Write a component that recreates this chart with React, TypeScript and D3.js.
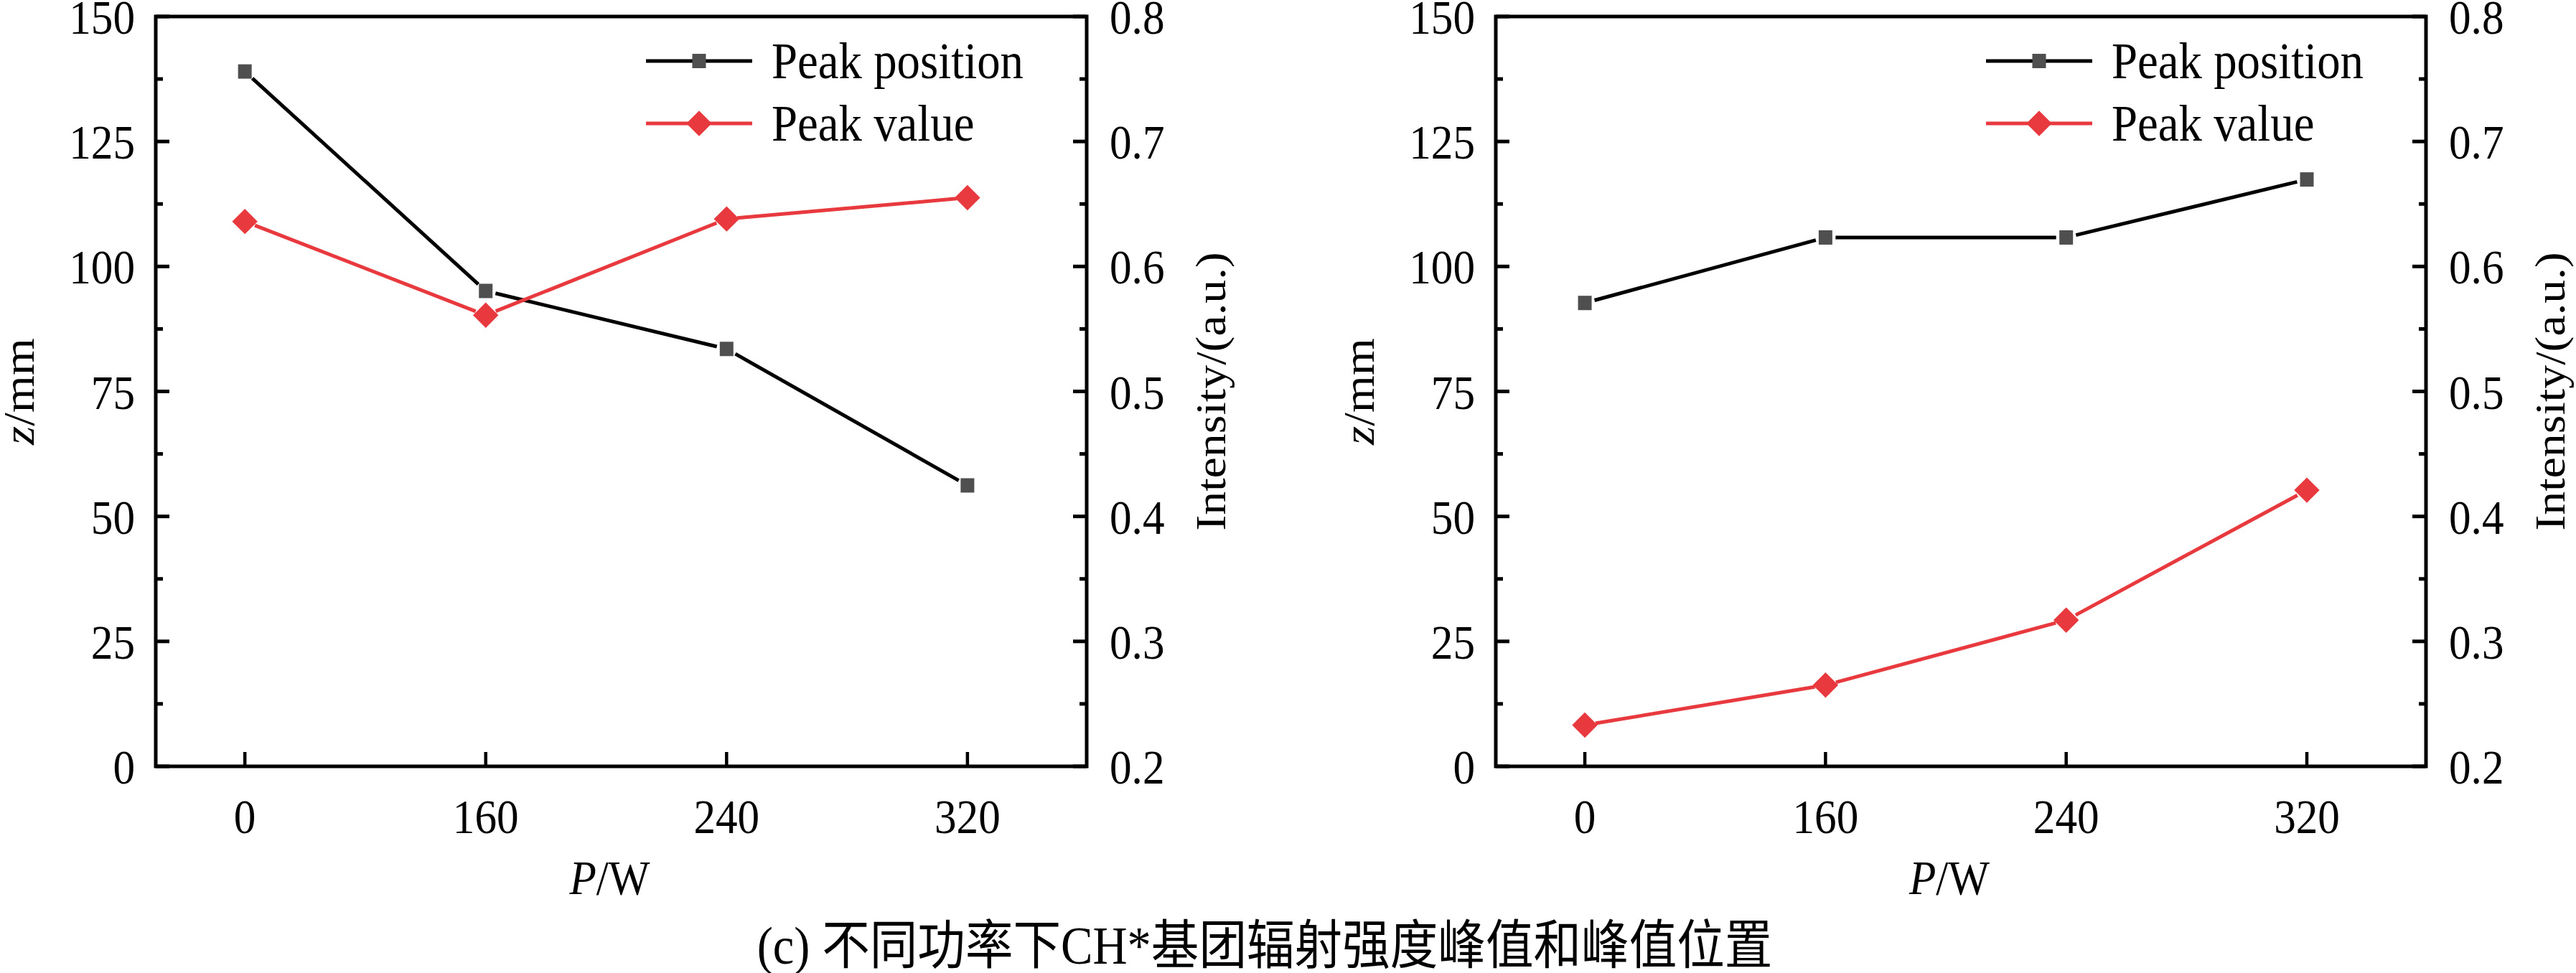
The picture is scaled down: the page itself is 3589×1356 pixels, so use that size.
import React from "react";
import * as d3 from "d3";

// power levels (categorical x axis)
const powers = ["0", "160", "240", "320"];

// left panel
const leftPeakPosition = [139.0, 95.1, 83.5, 56.2];
const leftPeakValue = [0.636, 0.561, 0.638, 0.655];

// right panel
const rightPeakPosition = [92.7, 105.8, 105.8, 117.4];
const rightPeakValue = [0.233, 0.265, 0.317, 0.421];

const zTicks = [0, 25, 50, 75, 100, 125, 150];
const intensityTicks = [0.2, 0.3, 0.4, 0.5, 0.6, 0.7, 0.8];

const seriesNames = ["Peak position", "Peak value"];
const caption = "(c) 不同功率下CH*基团辐射强度峰值和峰值位置";

const W = 3589;
const H = 1356;
const TOP = 23;
const BOTTOM = 1068;
const FONT = "'Liberation Serif', 'Times New Roman', 'Noto Sans CJK SC', serif";
const SX = 0.9; // text in the figure is a little narrow
const RED = "#e8393e";
const GREY = "#4f4f4f";
const LW = 5;

interface PanelProps {
  left: number;
  right: number;
  position: number[];
  value: number[];
}

// segments that stop short of the markers, like Origin draws them
const gapSegments = (pts: [number, number][], gap: number) => {
  const segs: [number, number, number, number][] = [];
  for (let i = 0; i < pts.length - 1; i++) {
    const [x1, y1] = pts[i];
    const [x2, y2] = pts[i + 1];
    const len = Math.hypot(x2 - x1, y2 - y1);
    const ux = (x2 - x1) / len;
    const uy = (y2 - y1) / len;
    segs.push([x1 + ux * gap, y1 + uy * gap, x2 - ux * gap, y2 - uy * gap]);
  }
  return segs;
};

const Panel = ({ left, right, position, value }: PanelProps) => {
  const x = d3.scaleLinear().domain([-0.37, 3.495]).range([left, right]);
  const yL = d3.scaleLinear().domain([0, 150]).range([BOTTOM, TOP]);
  const yR = d3.scaleLinear().domain([0.2, 0.8]).range([BOTTOM, TOP]);

  const posPts = position.map((d, i) => [x(i), yL(d)] as [number, number]);
  const valPts = value.map((d, i) => [x(i), yR(d)] as [number, number]);

  const zMinor = zTicks.slice(1).map((t, i) => (t + zTicks[i]) / 2);
  const iMinor = intensityTicks.slice(1).map((t, i) => (t + intensityTicks[i]) / 2);

  const cx = (left + right) / 2;
  const midY = (TOP + BOTTOM) / 2;
  const diamond = d3.symbol().type(d3.symbolDiamond2).size(800);

  const legendX = left + 683;
  const legendRows = [85, 172];

  return (
    <g>
      {/* lines */}
      {gapSegments(posPts, 14).map((s, i) => (
        <line key={"pl" + i} x1={s[0]} y1={s[1]} x2={s[2]} y2={s[3]} stroke="#000" strokeWidth={LW} />
      ))}
      {gapSegments(valPts, 15).map((s, i) => (
        <line key={"vl" + i} x1={s[0]} y1={s[1]} x2={s[2]} y2={s[3]} stroke={RED} strokeWidth={LW} />
      ))}
      {posPts.map((p, i) => (
        <rect key={"ps" + i} x={p[0] - 9.5} y={p[1] - 10} width={19} height={20} fill={GREY} />
      ))}
      {valPts.map((p, i) => (
        <path key={"vd" + i} d={diamond() as string} transform={`translate(${p[0]},${p[1]})`} fill={RED} />
      ))}

      {/* frame */}
      <rect x={left} y={TOP} width={right - left} height={BOTTOM - TOP} fill="none" stroke="#000" strokeWidth={LW} />

      {/* left axis */}
      {zTicks.map((t) => (
        <g key={"zt" + t}>
          <line x1={left} x2={left + 19} y1={yL(t)} y2={yL(t)} stroke="#000" strokeWidth={LW} />
          <text
            transform={`translate(${left - 29},${yL(t) + 24}) scale(${SX},1)`}
            textAnchor="end"
            fontFamily={FONT}
            fontSize={68}
          >
            {t}
          </text>
        </g>
      ))}
      {zMinor.map((t) => (
        <line key={"zm" + t} x1={left} x2={left + 10} y1={yL(t)} y2={yL(t)} stroke="#000" strokeWidth={LW} />
      ))}

      {/* right axis */}
      {intensityTicks.map((t) => (
        <g key={"it" + t}>
          <line x1={right - 19} x2={right} y1={yR(t)} y2={yR(t)} stroke="#000" strokeWidth={LW} />
          <text
            transform={`translate(${right + 32},${yR(t) + 24}) scale(${SX},1)`}
            textAnchor="start"
            fontFamily={FONT}
            fontSize={68}
          >
            {t.toFixed(1)}
          </text>
        </g>
      ))}
      {iMinor.map((t) => (
        <line key={"im" + t} x1={right - 10} x2={right} y1={yR(t)} y2={yR(t)} stroke="#000" strokeWidth={LW} />
      ))}

      {/* bottom axis */}
      {powers.map((p, i) => (
        <g key={"xt" + p}>
          <line x1={x(i)} x2={x(i)} y1={BOTTOM} y2={BOTTOM - 20} stroke="#000" strokeWidth={4.5} />
          <text
            transform={`translate(${x(i)},1161) scale(${SX},1)`}
            textAnchor="middle"
            fontFamily={FONT}
            fontSize={68}
          >
            {p}
          </text>
        </g>
      ))}

      {/* axis titles */}
      <text
        transform={`translate(${cx - 16},1246) scale(${SX},1)`}
        textAnchor="middle"
        fontFamily={FONT}
        fontSize={68}
      >
        <tspan fontStyle="italic">P</tspan>/W
      </text>
      <text
        transform={`translate(${left - 170},${midY}) rotate(-90) scale(1,${SX})`}
        textAnchor="middle"
        fontFamily={FONT}
        fontSize={67}
      >
        <tspan fontStyle="italic">z</tspan>/mm
      </text>
      <text
        transform={`translate(${right + 193},${midY}) rotate(-90) scale(1,${SX})`}
        textAnchor="middle"
        fontFamily={FONT}
        fontSize={66}
      >
        Intensity/(a.u.)
      </text>

      {/* legend */}
      {legendRows.map((ly, i) => (
        <g key={"lg" + i}>
          <line x1={legendX} x2={legendX + 148} y1={ly} y2={ly} stroke={i === 0 ? "#000" : RED} strokeWidth={LW} />
          {i === 0 ? (
            <rect x={legendX + 74 - 9.5} y={ly - 10} width={19} height={20} fill={GREY} />
          ) : (
            <path d={diamond() as string} transform={`translate(${legendX + 74},${ly})`} fill={RED} />
          )}
          <text
            transform={`translate(${legendX + 175},${ly + 24}) scale(${SX},1)`}
            fontFamily={FONT}
            fontSize={72}
          >
            {seriesNames[i]}
          </text>
        </g>
      ))}
    </g>
  );
};

const App = () => {
  return (
    <svg
      width={W}
      height={H}
      viewBox={`0 0 ${W} ${H}`}
      style={{ position: "absolute", left: 0, top: 0, background: "#fff" }}
    >
      <rect width={W} height={H} fill="#fff" />
      <Panel left={217} right={1514} position={leftPeakPosition} value={leftPeakValue} />
      <Panel left={2084} right={3380} position={rightPeakPosition} value={rightPeakValue} />
      <text
        transform={`translate(1762,1343) scale(${SX},1)`}
        textAnchor="middle"
        fontFamily={FONT}
        fontSize={74}
      >
        {caption}
      </text>
    </svg>
  );
};

export default App;
